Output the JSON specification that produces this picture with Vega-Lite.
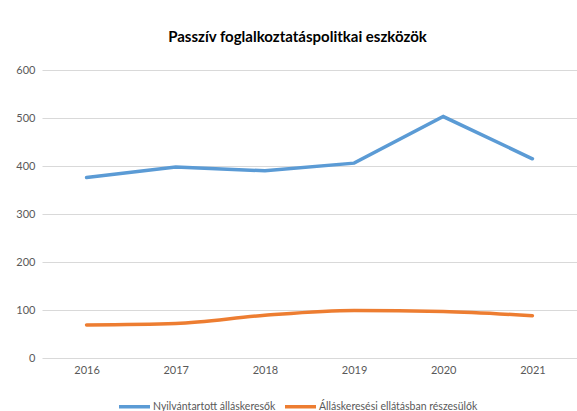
{
  "$schema": "https://vega.github.io/schema/vega-lite/v6.json",
  "width": 535,
  "height": 288,
  "autosize": {"type": "none"},
  "padding": {"left": 42, "top": 70, "right": 0, "bottom": 53},
  "background": "white",
  "title": {
    "text": "Passzív foglalkoztatáspolitkai eszközök",
    "font": "Lato",
    "fontSize": 15,
    "fontWeight": "bold",
    "color": "#000000",
    "anchor": "middle",
    "dx": -12,
    "offset": 19
  },
  "data": {
    "values": [
      {"ev": "2016", "sorozat": "Nyilvántartott álláskeresők", "ertek": 376},
      {"ev": "2017", "sorozat": "Nyilvántartott álláskeresők", "ertek": 398},
      {"ev": "2018", "sorozat": "Nyilvántartott álláskeresők", "ertek": 390},
      {"ev": "2019", "sorozat": "Nyilvántartott álláskeresők", "ertek": 406},
      {"ev": "2020", "sorozat": "Nyilvántartott álláskeresők", "ertek": 503},
      {"ev": "2021", "sorozat": "Nyilvántartott álláskeresők", "ertek": 415},
      {"ev": "2016", "sorozat": "Álláskeresési ellátásban részesülők", "ertek": 69},
      {"ev": "2017", "sorozat": "Álláskeresési ellátásban részesülők", "ertek": 72},
      {"ev": "2018", "sorozat": "Álláskeresési ellátásban részesülők", "ertek": 89},
      {"ev": "2019", "sorozat": "Álláskeresési ellátásban részesülők", "ertek": 99},
      {"ev": "2020", "sorozat": "Álláskeresési ellátásban részesülők", "ertek": 97},
      {"ev": "2021", "sorozat": "Álláskeresési ellátásban részesülők", "ertek": 88}
    ]
  },
  "encoding": {
    "x": {
      "field": "ev",
      "type": "ordinal",
      "scale": {"type": "point", "padding": 0.5},
      "axis": {
        "title": null,
        "labelAngle": 0,
        "labelFont": "Lato",
        "labelFontSize": 11,
        "labelColor": "#595959",
        "labelPadding": 6,
        "ticks": false,
        "domain": false,
        "grid": false
      }
    },
    "y": {
      "field": "ertek",
      "type": "quantitative",
      "scale": {"domain": [0, 600], "nice": false},
      "axis": {
        "title": null,
        "values": [0, 100, 200, 300, 400, 500, 600],
        "labelFont": "Lato",
        "labelFontSize": 11,
        "labelColor": "#595959",
        "labelPadding": 7,
        "ticks": false,
        "domain": false,
        "grid": true,
        "gridColor": "#D9D9D9",
        "gridWidth": 1
      }
    },
    "color": {
      "field": "sorozat",
      "type": "nominal",
      "scale": {
        "domain": ["Nyilvántartott álláskeresők", "Álláskeresési ellátásban részesülők"],
        "range": ["#5B9BD5", "#ED7D31"]
      },
      "legend": {
        "title": null,
        "orient": "none",
        "direction": "horizontal",
        "legendX": 75,
        "legendY": 319,
        "symbolType": "stroke",
        "symbolSize": 961,
        "symbolStrokeWidth": 3.5,
        "labelFont": "Lato",
        "labelFontSize": 10.5,
        "labelColor": "#595959",
        "labelOffset": 1,
        "labelLimit": 400,
        "columnPadding": 2
      }
    }
  },
  "layer": [
    {
      "transform": [{"filter": "datum.sorozat === 'Nyilvántartott álláskeresők'"}],
      "mark": {"type": "line", "strokeWidth": 3.5, "strokeCap": "round"}
    },
    {
      "transform": [{"filter": "datum.sorozat === 'Álláskeresési ellátásban részesülők'"}],
      "mark": {"type": "line", "strokeWidth": 3.5, "strokeCap": "round", "interpolate": "monotone"}
    }
  ],
  "config": {"view": {"stroke": null}}
}
